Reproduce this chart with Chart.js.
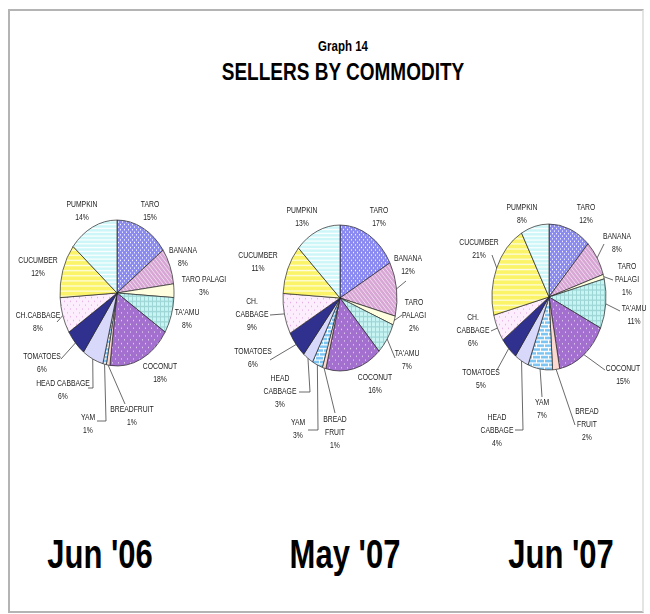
<!DOCTYPE html>
<html>
<head>
<meta charset="utf-8">
<script src="https://cdn.jsdelivr.net/npm/chart.js@4.4.1/dist/chart.umd.min.js"></script>
<style>
body { margin: 0; background: #fff; width: 650px; height: 614px; position: relative; overflow: hidden; font-family: "Liberation Sans", Arial, sans-serif; }
#frame { position: absolute; left: 8px; top: 9px; width: 632px; height: 600px; border: 2px solid #b4b4b4; border-right-color: #e4e4e4; }
.t { position: absolute; font-weight: bold; color: #000; white-space: nowrap; line-height: 1; transform: translateX(-50%) scaleY(1.3); }
canvas { position: absolute; }
</style>
</head>
<body>
<div id="frame"></div>
<div class="t" style="left:343px;top:41px;font-size:11.5px">Graph 14</div>
<div class="t" style="left:343px;top:62px;font-size:19px">SELLERS BY COMMODITY</div>
<div class="t" style="left:100px;top:539px;font-size:31px">Jun '06</div>
<div class="t" style="left:345px;top:539px;font-size:31px">May '07</div>
<div class="t" style="left:561px;top:539px;font-size:31px">Jun '07</div>
<canvas id="pie1" width="250" height="300" style="left:-8px;top:143px"></canvas>
<canvas id="pie2" width="250" height="300" style="left:215px;top:148px"></canvas>
<canvas id="pie3" width="250" height="300" style="left:424px;top:147px"></canvas>
<script>
// commodities, clockwise from 12 o'clock
var commodities = ['TARO', 'BANANA', 'TARO PALAGI', "TA'AMU", 'COCONUT', 'BREADFRUIT',
                   'YAM', 'HEAD CABBAGE', 'TOMATOES', 'CH.CABBAGE', 'CUCUMBER', 'PUMPKIN'];

// percentage of sellers
var jun06 = [15, 8, 3, 8, 18, 1, 1, 6, 6, 8, 12, 14];
var may07 = [17, 12, 2, 7, 16, 1, 3, 3, 6, 9, 11, 13];
var jun07 = [12, 8, 1, 11, 15, 2, 7, 4, 5, 6, 21, 8];

// label text as printed next to each pie
var labels06 = ['TARO', 'BANANA', 'TARO PALAGI', "TA'AMU", 'COCONUT', 'BREADFRUIT',
                'YAM', 'HEAD CABBAGE', 'TOMATOES', 'CH.CABBAGE', 'CUCUMBER', 'PUMPKIN'];
var labels07a = ['TARO', 'BANANA', 'TARO\nPALAGI', "TA'AMU", 'COCONUT', 'BREAD\nFRUIT',
                 'YAM', 'HEAD\nCABBAGE', 'TOMATOES', 'CH.\nCABBAGE', 'CUCUMBER', 'PUMPKIN'];
var labels07b = labels07a;

// the original picture is stretched vertically
var SY = 1.28, SYT = 1.25, R = 57;

// label placement (relative to pie centre) and leader lines
var place06 = [
  { at: [33, -88] }, { at: [66, -42] }, { at: [87, -13] }, { at: [70, 20] },
  { at: [43, 74] }, { at: [15, 117], lead: [[8, 111]] },
  { at: [-29, 125], lead: [[-11, 128], [-20, 128]] },
  { at: [-54, 91], lead: [[-24, 95], [-29, 95]] },
  { at: [-75, 64], lead: [[-56, 66]] },
  { at: [-79, 23], lead: [[-60, 29]] },
  { at: [-79, -32] }, { at: [-35, -88] }
];
var place07a = [
  { at: [39, -87] }, { at: [68, -39], lead: [[66, -17]] },
  { at: [74, 5], lead: [[62, 17]] }, { at: [67, 56], lead: [[55, 60]] },
  { at: [35, 80] }, { at: [-5, 122], lead: [[-5, 115]] },
  { at: [-42, 125], lead: [[-22, 132], [-32, 132]] },
  { at: [-60, 81], lead: [[-30, 94], [-41, 94]] },
  { at: [-87, 54], lead: [[-70, 62]] },
  { at: [-88, 4], lead: [[-70, 17]] },
  { at: [-82, -42] }, { at: [-38, -87] }
];
var place07b = [
  { at: [37, -89] }, { at: [68, -60], lead: [[55, -53]] },
  { at: [78, -30], lead: [[64, -17]] }, { at: [85, 12], lead: [[71, 14]] },
  { at: [74, 72], lead: [[56, 73]] }, { at: [38, 115], lead: [[26, 128]] },
  { at: [-7, 106], lead: [[-7, 100]] },
  { at: [-52, 121], lead: [[-26, 133], [-34, 133]] },
  { at: [-68, 76], lead: [[-52, 73]] },
  { at: [-76, 21], lead: [[-58, 34]] },
  { at: [-70, -54], lead: [[-57, -42]] }, { at: [-27, -89] }
];

function pat(base, w, h, draw) {
  var c = document.createElement('canvas');
  c.width = w; c.height = h;
  var g = c.getContext('2d');
  g.fillStyle = base; g.fillRect(0, 0, w, h);
  if (draw) draw(g);
  return g.createPattern(c, 'repeat');
}

var fills = [
  pat('#8a8af0', 4, 4, function (g) { g.fillStyle = '#fff'; g.fillRect(0, 0, 1, 1); g.fillRect(2, 2, 1, 1); }),
  pat('#d8a6d4', 4, 4, function (g) { g.fillStyle = 'rgba(255,255,255,0.6)'; for (var i = 0; i < 4; i++) g.fillRect(i, i, 1, 1); }),
  pat('#ffffe0', 2, 2),
  pat('#c8f4f4', 4, 4, function (g) { g.fillStyle = '#9ed6d6'; g.fillRect(0, 0, 4, 1); g.fillRect(0, 0, 1, 4); }),
  pat('#a470cf', 6, 6, function (g) { g.fillStyle = 'rgba(255,255,255,0.7)'; g.fillRect(0, 0, 1, 1); g.fillRect(3, 3, 1, 1); }),
  pat('#fbd8d0', 2, 2),
  pat('#7cc4f2', 8, 6, function (g) { g.fillStyle = '#fff'; g.fillRect(0, 0, 8, 1); g.fillRect(0, 3, 8, 1); g.fillRect(0, 0, 1, 3); g.fillRect(4, 3, 1, 3); }),
  pat('#d8d8fa', 2, 2),
  pat('#30308e', 2, 2),
  pat('#fdeefd', 6, 6, function (g) { g.fillStyle = '#e4b0e4'; g.fillRect(0, 0, 1, 1); g.fillRect(3, 3, 1, 1); }),
  pat('#fbf468', 4, 4, function (g) { g.fillStyle = 'rgba(255,255,255,0.8)'; g.fillRect(0, 0, 4, 1); }),
  pat('#ccf6f8', 4, 3, function (g) { g.fillStyle = '#fff'; g.fillRect(0, 0, 4, 1); })
];

// squash the pie into the tall ellipse of the original
var stretchPlugin = {
  id: 'stretch',
  beforeDatasetsDraw: function (chart) {
    var a = chart.getDatasetMeta(0).data[0];
    var ctx = chart.ctx;
    ctx.save();
    ctx.translate(a.x, a.y);
    ctx.scale(1, SY);
    ctx.translate(-a.x, -a.y);
  },
  afterDatasetsDraw: function (chart) {
    chart.ctx.restore();
  }
};

var outLabelPlugin = {
  id: 'outLabels',
  afterDraw: function (chart) {
    var ctx = chart.ctx;
    var opts = chart.options.plugins.outLabels;
    var values = chart.data.datasets[0].data;
    chart.getDatasetMeta(0).data.forEach(function (arc, i) {
      var p = opts.place[i];
      var cx = arc.x, cy = arc.y;
      var mid = (arc.startAngle + arc.endAngle) / 2;
      if (p.lead) {
        ctx.save();
        ctx.strokeStyle = '#444';
        ctx.lineWidth = 0.8;
        ctx.beginPath();
        ctx.moveTo(cx + Math.cos(mid) * arc.outerRadius, cy + Math.sin(mid) * arc.outerRadius * SY);
        p.lead.forEach(function (pt) { ctx.lineTo(cx + pt[0], cy + pt[1]); });
        ctx.stroke();
        ctx.restore();
      }
      var lines = opts.names[i].split('\n').concat([values[i] + '%']);
      lines.forEach(function (line, k) {
        ctx.save();
        ctx.translate(cx + p.at[0], cy + p.at[1] + k * 13);
        ctx.scale(1, SYT);
        ctx.fillStyle = '#222';
        ctx.font = '6.8px "Liberation Sans", Arial, sans-serif';
        ctx.textAlign = 'center';
        ctx.textBaseline = 'middle';
        ctx.fillText(line, 0, 0);
        ctx.restore();
      });
    });
  }
};

function makePie(id, values, names, place) {
  return new Chart(document.getElementById(id), {
    type: 'pie',
    data: {
      labels: commodities,
      datasets: [{
        data: values,
        backgroundColor: fills,
        borderColor: '#222',
        borderWidth: 0.6
      }]
    },
    options: {
      responsive: false,
      animation: false,
      radius: R,
      layout: { padding: 0 },
      plugins: {
        legend: { display: false },
        tooltip: { enabled: false },
        outLabels: { names: names, place: place }
      }
    },
    plugins: [stretchPlugin, outLabelPlugin]
  });
}

makePie('pie1', jun06, labels06, place06);
makePie('pie2', may07, labels07a, place07a);
makePie('pie3', jun07, labels07b, place07b);
</script>
</body>
</html>
